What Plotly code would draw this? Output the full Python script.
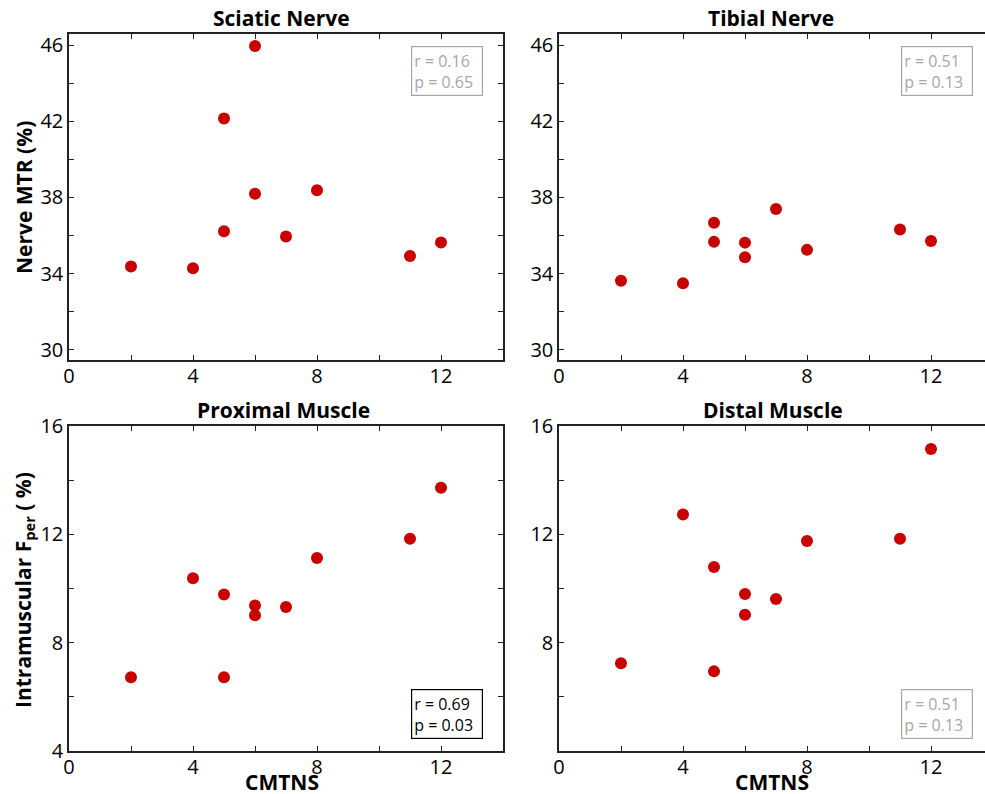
import plotly.graph_objects as go

cmtns = [2, 4, 5, 5, 6, 6, 7, 8, 11, 12]
sciatic_mtr = [34.38, 34.29, 42.14, 36.23, 45.95, 38.2, 35.95, 38.38, 34.93, 35.64]
cmtns_tib = [2, 4, 5, 5, 6, 6, 7, 8, 11, 12]
tibial_mtr = [33.63, 33.5, 36.67, 35.67, 35.63, 34.86, 37.4, 35.25, 36.32, 35.72]
cmtns_prox = [2, 4, 5, 5, 6, 6, 7, 8, 11, 12]
proximal_fper = [6.72, 10.38, 9.78, 6.72, 9.37, 9.01, 9.32, 11.13, 11.84, 13.72]
cmtns_dist = [2, 4, 5, 5, 6, 6, 7, 8, 11, 12]
distal_fper = [7.24, 12.73, 10.79, 6.94, 9.8, 9.03, 9.61, 11.75, 11.84, 15.15]

titles = ["Sciatic Nerve", "Tibial Nerve", "Proximal Muscle", "Distal Muscle"]
stats = ["r = 0.16<br>p = 0.65", "r = 0.51<br>p = 0.13", "r = 0.69<br>p = 0.03", "r = 0.51<br>p = 0.13"]
stat_colors = ["#a6a6a6", "#a6a6a6", "#000000", "#a6a6a6"]

x_ticks = [0, 4, 8, 12]
nerve_ticks = [30, 34, 38, 42, 46]
muscle_ticks_left = [4, 8, 12, 16]
muscle_ticks_right = [8, 12, 16]

W, H = 985, 794
FONT = "Open Sans"
RED = "#c80000"
AX = "#222222"
TICK_SIZE = 20

fig = go.Figure()

xs = [cmtns, cmtns_tib, cmtns_prox, cmtns_dist]
ys = [sciatic_mtr, tibial_mtr, proximal_fper, distal_fper]
for i in range(4):
    fig.add_trace(go.Scatter(
        x=xs[i], y=ys[i], mode="markers",
        marker=dict(color=RED, size=12, line=dict(width=0)),
        xaxis="x" if i == 0 else f"x{i+1}",
        yaxis="y" if i == 0 else f"y{i+1}",
        showlegend=False, hoverinfo="x+y",
    ))

# domains (pixel-derived)
left_dom = [69 / W, 503 / W]
right_dom = [559 / W, 1.0]
top_dom = [1 - 360 / H, 1 - 34 / H]
bot_dom = [1 - 751 / H, 1 - 426 / H]

def xaxis(dom, anchor, rng, mirror):
    return dict(domain=dom, anchor=anchor, range=rng, automargin=False,
                tickvals=x_ticks, ticks="inside", ticklen=5, tickwidth=1.2, tickcolor=AX,
                ticklabelstandoff=-3,
                minor=dict(tickvals=[2, 6, 10], ticks="inside", ticklen=5, tickwidth=1.2, tickcolor=AX),
                showline=True, linecolor=AX, linewidth=1.5, mirror=mirror,
                showgrid=False, zeroline=False,
                tickfont=dict(family=FONT, size=TICK_SIZE, color="#000"))

def yaxis(dom, anchor, rng, tv, minor_tv, mirror):
    return dict(domain=dom, anchor=anchor, range=rng, automargin=False,
                tickvals=tv, ticks="inside", ticklen=5, tickwidth=1.2, tickcolor=AX,
                minor=dict(tickvals=minor_tv, ticks="inside", ticklen=5, tickwidth=1.2, tickcolor=AX),
                showline=True, linecolor=AX, linewidth=1.5, mirror=mirror,
                showgrid=False, zeroline=False,
                tickfont=dict(family=FONT, size=TICK_SIZE, color="#000"))

xr_left = [0, 14]
xr_right = [0, 426 / 31]
nerve_range = [29.47, 46.58]
muscle_range = [4, 16]

fig.update_layout(
    width=W, height=H,
    margin=dict(l=0, r=0, t=0, b=0, autoexpand=False),
    plot_bgcolor="white", paper_bgcolor="white",
    xaxis=xaxis(left_dom, "y", xr_left, "ticks"),
    yaxis=yaxis(top_dom, "x", nerve_range, nerve_ticks, [32, 36, 40, 44], "ticks"),
    xaxis2=xaxis(right_dom, "y2", xr_right, "ticks"),
    yaxis2=yaxis(top_dom, "x2", nerve_range, nerve_ticks, [32, 36, 40, 44], False),
    xaxis3=xaxis(left_dom, "y3", xr_left, "ticks"),
    yaxis3=yaxis(bot_dom, "x3", muscle_range, muscle_ticks_left, [6, 10, 14], "ticks"),
    xaxis4=xaxis(right_dom, "y4", xr_right, "ticks"),
    yaxis4=yaxis(bot_dom, "x4", muscle_range, muscle_ticks_right, [6, 10, 14], False),
)

def txt(px, py, text, size=21, angle=0):
    fig.add_annotation(x=px / W, y=1 - py / H, xref="paper", yref="paper",
                       text=text, showarrow=False, xanchor="center", yanchor="middle",
                       textangle=angle, font=dict(family=FONT, size=size, color="#000"))

# Titles
title_pos = [(281, 18), (771, 18), (283, 410), (773, 410)]
for (px, py), t in zip(title_pos, titles):
    txt(px, py, f"<b>{t}</b>")

# axis titles
txt(282, 782, "<b>CMTNS</b>")
txt(772, 782, "<b>CMTNS</b>")
txt(24, 198, "<b>Nerve MTR (%)</b>", angle=-90)
txt(24, 590, "<b>Intramuscular F<sub>per</sub> ( %)</b>", angle=-90)

# stat boxes
box_pos = [(411, 46), (901, 46), (411, 689), (901, 689)]
for (px, py), s, c in zip(box_pos, stats, stat_colors):
    fig.add_annotation(x=px / W, y=1 - py / H, xref="paper", yref="paper",
                       text=s, showarrow=False, xanchor="left", yanchor="top",
                       align="left", width=66, height=44, borderpad=2,
                       bordercolor=c, borderwidth=1.2, bgcolor="white",
                       font=dict(family=FONT, size=16, color=c))

fig.write_html("out.html", config={"displayModeBar": False},
               post_script="document.body.style.margin='0';document.body.style.overflow='hidden';")
